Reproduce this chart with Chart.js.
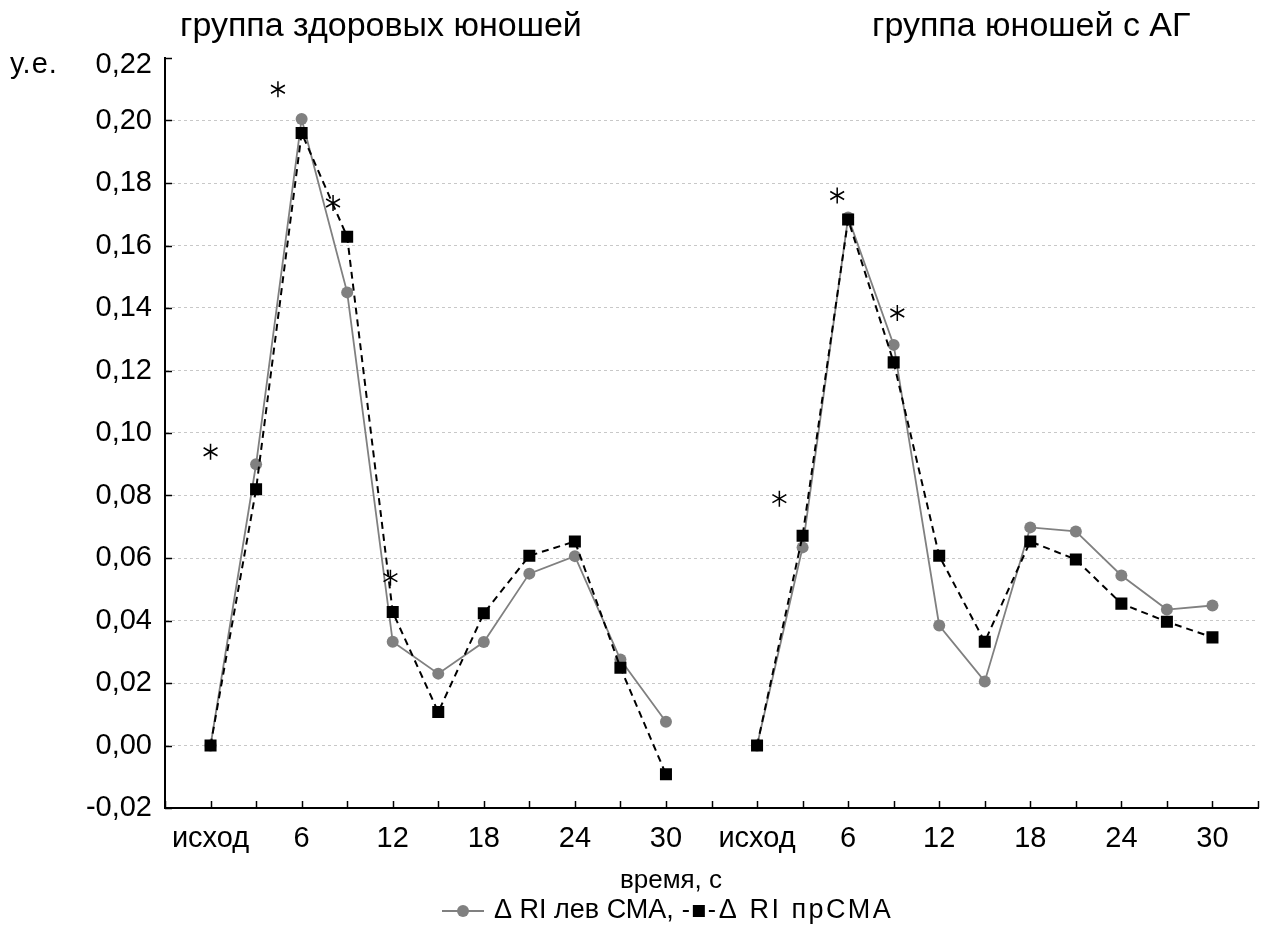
<!DOCTYPE html>
<html>
<head>
<meta charset="utf-8">
<script src="https://cdn.jsdelivr.net/npm/chart.js@4/dist/chart.umd.min.js"></script>
<style>
  html, body { margin: 0; padding: 0; background: #fff; }
  #wrap { width: 1272px; height: 932px; }
</style>
</head>
<body>
<div id="wrap"><canvas id="c" width="1272" height="932"></canvas></div>
<script>
// Titles of the two subject groups
const groupTitles = ['группа здоровых юношей', 'группа юношей с АГ'];
// Time points within each group (seconds from the start of the test)
const times = ['исход', 3, 6, 9, 12, 15, 18, 21, 24, 27, 30];
// Δ RI, left middle cerebral artery
const leftHealthy = [0, 0.090, 0.2005, 0.145, 0.0332, 0.023, 0.0331, 0.055, 0.0606, 0.0275, 0.0076];
const leftAH      = [0, 0.0634, 0.169, 0.1282, 0.0384, 0.0205, 0.0698, 0.0685, 0.0544, 0.0435, 0.0448];
// Δ RI, right middle cerebral artery
const rightHealthy = [0, 0.082, 0.196, 0.1628, 0.0427, 0.0107, 0.0423, 0.0607, 0.0653, 0.0249, -0.0092];
const rightAH      = [0, 0.0671, 0.1683, 0.1226, 0.0607, 0.0332, 0.0653, 0.0595, 0.0454, 0.0396, 0.0346];
// Series names and axis captions
const seriesNames = ['Δ RI лев СМА', 'Δ RI прСМА'];
const yUnit = 'у.е.';
const xTitle = 'время, с';
// Significance marks: group, position along the time points, value
const starGroup = [0, 0, 0, 0, 1, 1, 1];
const starPos   = [0, 1.48, 2.69, 3.95, 0.49, 1.76, 3.08];
const starValue = [0.094, 0.21, 0.1736, 0.0537, 0.079, 0.176, 0.1384];
// Value axis range
const yMin = -0.02, yMax = 0.22, yStep = 0.02;

const FONT = '"Liberation Sans", Arial, sans-serif';
const TICK_SIZE = 29;

// One empty slot before, between and after the groups
const labels = [''].concat(times, [''], times, ['']);
const leftData = [null].concat(leftHealthy, [null], leftAH, [null]);
const rightData = [null].concat(rightHealthy, [null], rightAH, [null]);
const slotIndex = (g, p) => 1 + g * (times.length + 1) + p;

const fmt = v => (Math.abs(v) < 1e-9 ? 0 : v).toFixed(2).replace('.', ',');

const decor = {
  id: 'decor',
  afterDraw(chart) {
    const ctx = chart.ctx;
    const xs = chart.scales.x, ys = chart.scales.y;
    const area = chart.chartArea;
    ctx.save();

    // inward tick marks
    ctx.strokeStyle = '#000';
    ctx.lineWidth = 1.5;
    ctx.setLineDash([]);
    for (let i = 0; i < labels.length; i++) {
      const px = Math.round(xs.getPixelForValue(i)) + 0.5;
      ctx.beginPath();
      ctx.moveTo(px, area.bottom);
      ctx.lineTo(px, area.bottom - 7);
      ctx.stroke();
    }
    ys.ticks.forEach(t => {
      const py = Math.round(ys.getPixelForValue(t.value)) + 0.5;
      ctx.beginPath();
      ctx.moveTo(area.left, py);
      ctx.lineTo(area.left + 7, py);
      ctx.stroke();
    });

    ctx.fillStyle = '#000';
    // top value label sits just under its tick
    ctx.font = TICK_SIZE + 'px ' + FONT;
    ctx.textAlign = 'right';
    ctx.textBaseline = 'middle';
    ctx.fillText(fmt(yMax), area.left - 13, ys.getPixelForValue(yMax) + 7);

    // unit caption
    ctx.textAlign = 'left';
    ctx.letterSpacing = '1px';
    ctx.fillText(yUnit, 10, 65);
    ctx.letterSpacing = '0px';

    // group titles
    ctx.font = '34px ' + FONT;
    ctx.textBaseline = 'alphabetic';
    ctx.fillText(groupTitles[0], 180, 36);
    ctx.fillText(groupTitles[1], 872, 36);

    // x axis title
    ctx.font = '26px ' + FONT;
    ctx.textAlign = 'center';
    ctx.textBaseline = 'middle';
    ctx.fillText(xTitle, 671, 881);

    // legend
    const ly = 911;
    let lx = 442;
    ctx.strokeStyle = '#808080';
    ctx.lineWidth = 1.8;
    ctx.beginPath(); ctx.moveTo(lx, ly); ctx.lineTo(lx + 42, ly); ctx.stroke();
    ctx.fillStyle = '#808080';
    ctx.beginPath(); ctx.arc(lx + 21, ly, 6, 0, Math.PI * 2); ctx.fill();
    ctx.fillStyle = '#000';
    ctx.textAlign = 'left';
    ctx.font = '27px ' + FONT;
    lx = 494;
    const t1 = seriesNames[0] + ',';
    ctx.fillText(t1, lx, ly);
    lx += ctx.measureText(t1).width + 9;
    ctx.strokeStyle = '#000';
    ctx.lineWidth = 2;
    ctx.beginPath(); ctx.moveTo(lx, ly); ctx.lineTo(lx + 6, ly); ctx.stroke();
    ctx.fillRect(lx + 10, ly - 6, 12, 12);
    ctx.beginPath(); ctx.moveTo(lx + 26, ly); ctx.lineTo(lx + 32, ly); ctx.stroke();
    lx += 36;
    ctx.letterSpacing = '2.5px';
    ctx.fillText(seriesNames[1], lx, ly);
    ctx.letterSpacing = '0px';

    // significance marks
    ctx.strokeStyle = '#000';
    ctx.lineWidth = 1.5;
    for (let i = 0; i < starPos.length; i++) {
      const cx = xs.getPixelForValue(slotIndex(starGroup[i], starPos[i]));
      const cy = ys.getPixelForValue(starValue[i]);
      const r = 8;
      ctx.beginPath();
      for (let k = 0; k < 3; k++) {
        const a = Math.PI / 2 + k * Math.PI / 3;
        ctx.moveTo(cx - r * Math.cos(a), cy - r * Math.sin(a));
        ctx.lineTo(cx + r * Math.cos(a), cy + r * Math.sin(a));
      }
      ctx.stroke();
    }
    ctx.restore();
  }
};

new Chart(document.getElementById('c'), {
  type: 'line',
  data: {
    labels: labels,
    datasets: [
      {
        label: seriesNames[1],
        data: rightData,
        borderColor: '#000',
        borderWidth: 2,
        borderDash: [7, 5],
        pointStyle: 'rect',
        pointRadius: 8.5,
        pointBackgroundColor: '#000',
        pointBorderColor: '#000',
        pointBorderWidth: 0,
        spanGaps: false,
        tension: 0,
        order: 0
      },
      {
        label: seriesNames[0],
        data: leftData,
        borderColor: '#808080',
        borderWidth: 1.8,
        pointStyle: 'circle',
        pointRadius: 6,
        pointBackgroundColor: '#808080',
        pointBorderColor: '#808080',
        pointBorderWidth: 0,
        spanGaps: false,
        tension: 0,
        order: 1
      }
    ]
  },
  options: {
    responsive: false,
    animation: false,
    events: [],
    layout: { padding: { top: 58, right: 9, left: 0, bottom: 0 } },
    plugins: { legend: { display: false }, tooltip: { enabled: false }, title: { display: false } },
    scales: {
      x: {
        type: 'category',
        offset: false,
        grid: { display: false, drawTicks: false },
        border: { display: true, color: '#000', width: 2 },
        ticks: {
          autoSkip: false,
          maxRotation: 0,
          padding: 14,
          color: '#000',
          font: { size: TICK_SIZE, family: FONT },
          callback(v, i) {
            const l = labels[i];
            return (l === 'исход' || (typeof l === 'number' && l % 6 === 0)) ? String(l) : '';
          }
        },
        afterFit(s) { s.height = 124; }
      },
      y: {
        min: yMin,
        max: yMax,
        grid: {
          drawTicks: false,
          lineWidth: 1,
          color: c => (c.tick && (c.tick.value > yMax - 0.005 || c.tick.value < yMin + 0.005)) ? 'rgba(0,0,0,0)' : '#c8c8c8'
        },
        border: { display: true, color: '#000', width: 2, dash: [3, 3] },
        ticks: {
          stepSize: yStep,
          padding: 13,
          color: '#000',
          font: { size: TICK_SIZE, family: FONT },
          callback(v) { return v > yMax - 0.005 ? '' : fmt(v); }
        },
        afterFit(s) { s.width = 165; }
      }
    }
  },
  plugins: [decor]
});
</script>
</body>
</html>
